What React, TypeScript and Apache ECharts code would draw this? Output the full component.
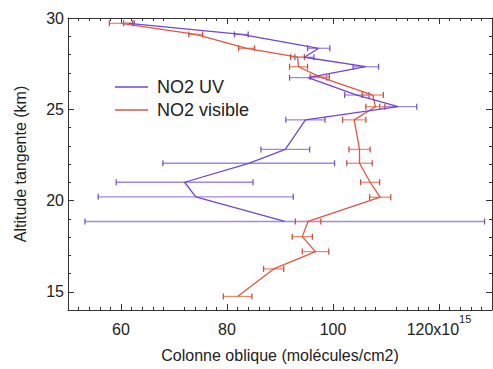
import React, { useEffect, useRef } from "react";
import * as echarts from "echarts";

// Altitude (km) and slant column (x1e15 molecules/cm2)
const uvAltitude = [29.71, 29.1, 28.34, 27.85, 27.33, 26.73, 25.78, 25.14, 24.42, 22.8, 22.04, 21.0, 20.2, 18.85];
const uvColumn = [61.5, 82.7, 97.3, 94.6, 106.2, 95.3, 104.5, 112.3, 94.8, 91.0, 84.1, 72.0, 74.1, 90.9];
const uvError = [1.0, 1.3, 2.1, 1.8, 2.4, 3.5, 2.3, 3.5, 3.7, 4.6, 16.2, 12.9, 18.4, 37.7];

const visAltitude = [29.71, 29.1, 28.34, 27.86, 27.33, 26.77, 25.78, 25.14, 24.42, 22.8, 22.04, 21.0, 20.18, 18.85, 18.02, 17.2, 16.25, 14.74];
const visColumn = [60.0, 74.1, 83.7, 93.3, 93.5, 97.5, 107.5, 108.0, 104.0, 105.0, 105.0, 107.0, 108.9, 95.3, 94.2, 96.7, 88.8, 82.0];
const visError = [2.2, 1.3, 1.5, 1.3, 1.7, 1.8, 2.0, 1.8, 2.2, 2.0, 2.4, 1.8, 2.0, 2.4, 1.9, 2.5, 1.9, 2.7];

const xTickLabels = [60, 80, 100, 120];
const yTickLabels = [15, 20, 25, 30];

const FONT = "'Liberation Sans', Arial, sans-serif";
const AXIS = "#333";

export default function App() {
  const ref = useRef<HTMLDivElement>(null);
  useEffect(() => {
    if (!ref.current) return;
    const chart = echarts.init(ref.current, null, { renderer: "svg" });

    const errData = (alt: number[], val: number[], err: number[]) =>
      alt.map((a, i) => [val[i] - err[i], val[i] + err[i], a]);

    const makeErr = (color: string, cap: string) => (params: any, api: any) => {
      const p1 = api.coord([api.value(0), api.value(2)]);
      const p2 = api.coord([api.value(1), api.value(2)]);
      const h = 3;
      return {
        type: "group",
        children: [
          { type: "line", shape: { x1: p1[0], y1: p1[1], x2: p2[0], y2: p2[1] }, style: { stroke: color, lineWidth: 1.3 } },
          { type: "line", shape: { x1: p1[0], y1: p1[1] - h, x2: p1[0], y2: p1[1] + h }, style: { stroke: cap, lineWidth: 1.3 } },
          { type: "line", shape: { x1: p2[0], y1: p2[1] - h, x2: p2[0], y2: p2[1] + h }, style: { stroke: cap, lineWidth: 1.3 } },
        ],
      };
    };

    const xCommon = {
      type: "value",
      min: 50,
      max: 130,
      interval: 10,
      axisLine: { show: true, lineStyle: { color: AXIS, width: 1 } },
      axisTick: { show: true, inside: true, length: 6, customValues: xTickLabels, lineStyle: { color: AXIS } },
      minorTick: { show: true, splitNumber: 5, length: 3, lineStyle: { color: AXIS } },
      splitLine: { show: false },
    };
    const yCommon = {
      type: "value",
      min: 14,
      max: 30,
      interval: 1,
      axisLine: { show: true, lineStyle: { color: AXIS, width: 1 } },
      axisTick: { show: true, inside: true, length: 3, lineStyle: { color: AXIS } },
      splitLine: { show: false },
    };
    const yMajor = {
      type: "value",
      min: 14,
      max: 30,
      interval: 1,
      axisLine: { show: false },
      axisTick: { show: true, inside: true, length: 6, customValues: yTickLabels, lineStyle: { color: AXIS } },
      axisLabel: { show: false },
      splitLine: { show: false },
    };

    chart.setOption({
      animation: false,
      textStyle: { fontFamily: FONT },
      grid: { left: 68, right: 1, top: 18, bottom: 59, containLabel: false },
      legend: {
        orient: "vertical",
        left: 110,
        top: 72,
        icon: "rect",
        itemWidth: 33,
        itemHeight: 1.5,
        itemGap: 3,
        data: ["NO2 UV", "NO2 visible"],
        textStyle: { fontSize: 18, lineHeight: 20, color: "#222", fontFamily: FONT, padding: [0, 0, 0, 4] },
      },
      xAxis: [
        {
          ...xCommon,
          position: "bottom",
          name: "Colonne oblique (molécules/cm2)",
          nameLocation: "middle",
          nameGap: 37,
          nameTextStyle: { fontSize: 16, color: "#222", fontFamily: FONT },
          axisLabel: {
            customValues: xTickLabels,
            margin: 1,
            color: "#222",
            fontFamily: FONT,
            formatter: (v: number) => (v === 120 ? "{n|120x10}{sup|15}" : "{n|" + v + "}"),
            rich: {
              n: { fontSize: 16, lineHeight: 26, verticalAlign: "bottom", color: "#222", fontFamily: FONT },
              sup: { fontSize: 11, lineHeight: 11, verticalAlign: "top", color: "#222", fontFamily: FONT, padding: [2, 0, 0, 0] },
            },
          },
        },
        { ...xCommon, position: "top", axisLabel: { show: false } },
      ],
      yAxis: [
        {
          ...yCommon,
          position: "left",
          name: "Altitude tangente (km)",
          nameLocation: "middle",
          nameGap: 40,
          nameTextStyle: { fontSize: 16, color: "#222", fontFamily: FONT },
          axisLabel: { customValues: yTickLabels, fontSize: 16, color: "#222", margin: 4, fontFamily: FONT },
        },
        { ...yCommon, position: "right", axisLabel: { show: false } },
        { ...yMajor, position: "left" },
        { ...yMajor, position: "right" },
      ],
      series: [
        {
          name: "UV err",
          type: "custom",
          xAxisIndex: 0,
          yAxisIndex: 0,
          renderItem: makeErr("#a486ea", "#7a55c8"),
          encode: { x: [0, 1], y: 2 },
          data: errData(uvAltitude, uvColumn, uvError),
          z: 2,
        },
        {
          name: "visible err",
          type: "custom",
          xAxisIndex: 0,
          yAxisIndex: 0,
          renderItem: makeErr("#ec8a6e", "#c9503f"),
          encode: { x: [0, 1], y: 2 },
          data: errData(visAltitude, visColumn, visError),
          z: 2,
        },
        {
          name: "NO2 visible",
          type: "line",
          xAxisIndex: 0,
          yAxisIndex: 0,
          symbol: "none",
          color: "#e2553f",
          lineStyle: { color: "#e2553f", width: 1.3 },
          data: visAltitude.map((a, i) => [visColumn[i], a]),
          z: 3,
        },
        {
          name: "NO2 UV",
          type: "line",
          xAxisIndex: 0,
          yAxisIndex: 0,
          symbol: "none",
          color: "#7444d4",
          lineStyle: { color: "#7444d4", width: 1.3 },
          data: uvAltitude.map((a, i) => [uvColumn[i], a]),
          z: 4,
        },
      ],
    });
    return () => chart.dispose();
  }, []);
  return <div ref={ref} style={{ position: "fixed", left: 0, top: 0, width: 493, height: 369, background: "#fff" }} />;
}
